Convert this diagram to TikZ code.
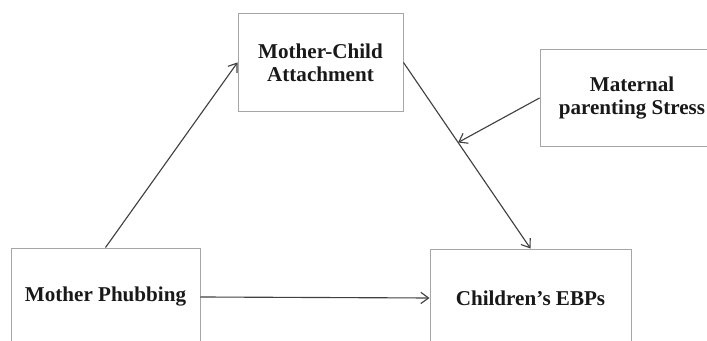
\documentclass[tikz,border=0pt]{standalone}
\usepackage{fontspec}
\setmainfont{Liberation Serif}
\usetikzlibrary{arrows.meta}

\begin{document}
\begin{tikzpicture}[
        caja/.style={draw=gray!70, line width=0.7pt, align=center,
            font=\bfseries\fontsize{15}{16.5}\selectfont, text=black!90},
        flecha/.style={-{Straight Barb[length=5.5pt, width=8pt]}, draw=black!75, line width=0.8pt}
    ]
    % Marco de la figura
    \useasboundingbox (0, 0) rectangle (17.675, 8.525);

    % Cajas
    \node[caja, minimum width=4.125cm, minimum height=2.425cm] (mca) at (8.0125, 6.9625) {Mother-Child\\Attachment};
    \node[caja, minimum width=4.6cm, minimum height=2.4cm] (mps) at (15.8, 6.075) {Maternal\\parenting Stress};
    \node[caja, minimum width=4.725cm, minimum height=2.45cm] (mp) at (2.6375, 1.1) {Mother Phubbing};
    \node[caja, minimum width=5.025cm, minimum height=2.45cm] (ce) at (13.2625, 1.075) {Children's EBPs};

    % Flechas
    \draw[flecha] (mp.north) -- (mca.west);
    \draw[flecha] (mca.east) -- coordinate[pos=0.43] (mod) (ce.north);
    \draw[flecha] (mp.east) -- (ce.west);

    % Moderador
    \draw[flecha] (mps.west) -- (mod);
\end{tikzpicture}
\end{document}
